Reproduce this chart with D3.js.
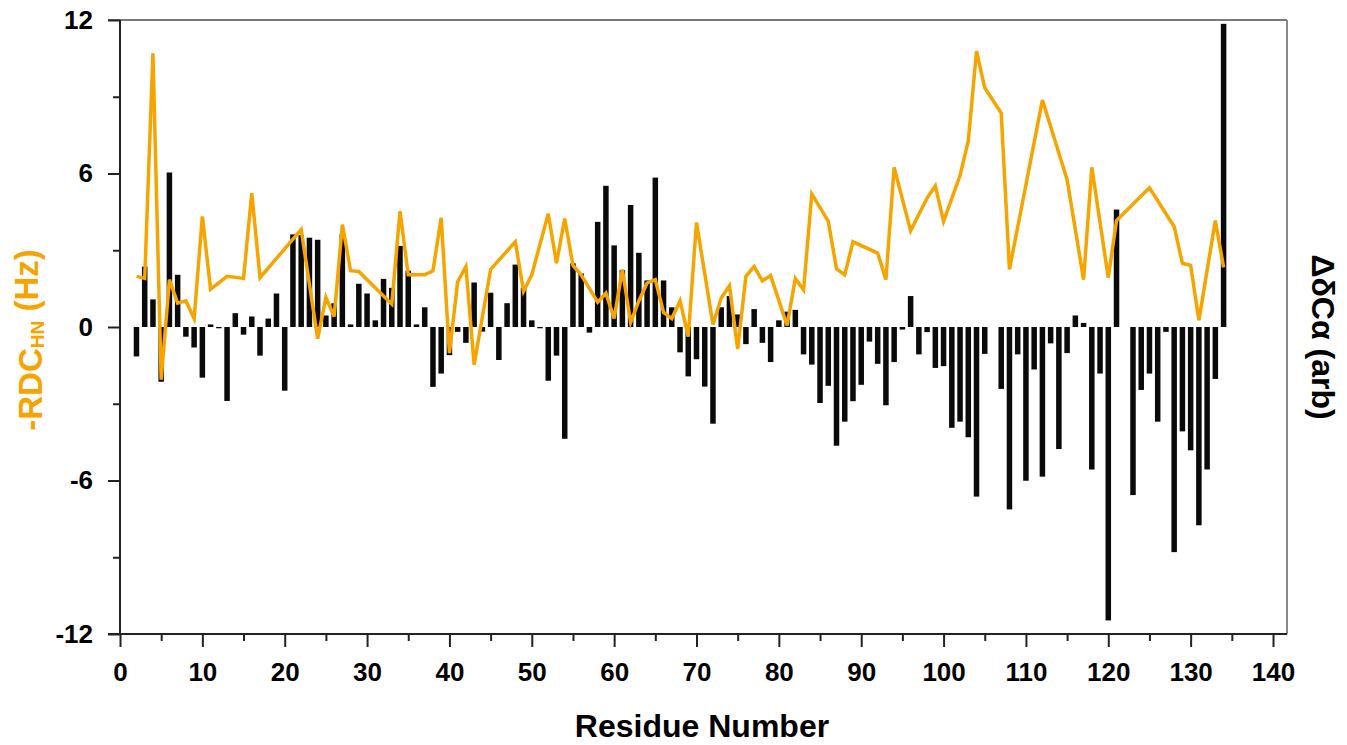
<!DOCTYPE html>
<html>
<head>
<meta charset="utf-8">
<script src="https://cdn.jsdelivr.net/npm/d3@7"></script>
<style>
  body { margin: 0; background: #fff; }
  svg { display: block; font-family: "Liberation Sans", Arial, sans-serif; }
</style>
</head>
<body>
<div id="chart"></div>
<script>
// ΔδCα per residue (bars)
const barResidues = [2,3,4,5,6,7,8,9,10,11,12,13,14,15,16,17,18,19,20,21,22,23,24,25,26,27,28,29,30,
    31,32,33,34,35,36,37,38,39,40,41,42,43,44,45,46,47,48,49,50,51,52,53,54,55,56,57,58,59,60,
    61,62,63,64,65,66,67,68,69,70,71,72,73,74,75,76,77,78,79,80,81,82,83,84,85,86,87,88,89,90,
    91,92,93,94,95,96,97,98,99,100,101,102,103,104,105,107,108,109,110,111,112,113,114,115,116,117,118,119,120,
    121,123,124,125,126,127,128,129,130,131,132,133,134];
const barValues = [-1.15,2.36,1.08,-2.14,6.04,2.04,-0.38,-0.8,-1.98,0.1,-0.05,-2.89,0.54,-0.3,0.41,-1.12,0.33,1.31,-2.49,3.62,3.59,3.49,3.41,0.45,0.93,3.62,0.1,1.69,1.31,
    0.26,1.88,1.53,3.17,2.2,0.1,0.77,-2.34,-1.82,-1.1,-0.19,-0.62,1.74,-0.18,1.34,-1.29,0.93,2.44,1.53,0.26,-0.05,-2.1,-1.12,-4.37,2.49,2.09,-0.22,4.11,5.52,3.19,
    2.22,4.77,2.9,1.82,5.84,1.82,0.77,-0.99,-1.93,-1.26,-2.33,-3.78,0.77,1.21,0.49,-0.67,0.7,-0.62,-1.37,0.26,0.6,0.67,-1.07,-1.47,-2.97,-2.3,-4.64,-3.7,-2.9,-2.26,
    -0.57,-1.44,-3.06,-1.37,-0.1,1.21,-1.07,-0.2,-1.6,-1.53,-3.94,-3.7,-4.31,-6.63,-1.05,-2.42,-7.13,-1.07,-6.01,-1.66,-5.85,-0.64,-4.77,-1.02,0.45,0.16,-5.57,-1.82,-11.47,
    4.59,-6.57,-2.46,-1.82,-3.7,-0.19,-8.8,-4.08,-4.82,-7.75,-5.57,-2.03,11.85];

// -RDC(HN) per residue (orange line)
const rdcResidues = [2,3,4,5,6,7,8,9,10,11,13,15,16,17,22,24,25,26,27,28,29,33,34,35,37,38,39,40,41,42,43,45,48,49,50,
    52,53,54,55,56,58,59,60,61,62,63,64,65,66,67,68,69,70,72,73,74,75,76,77,78,79,81,82,83,84,86,87,88,89,92,93,94,
    96,98,99,100,102,103,104,105,107,108,112,115,117,118,120,121,125,128,129,130,131,133,134];
const rdcValues = [1.98,1.9,10.7,-2.06,1.85,0.93,1.02,0.33,4.32,1.48,1.98,1.9,5.23,1.93,3.81,-0.46,1.16,0.41,4.0,2.2,2.17,0.89,4.53,2.04,2.04,2.2,4.27,-1.02,1.77,2.36,-1.47,2.25,3.33,1.4,2.04,
    4.43,2.49,4.24,2.41,2.04,0.97,1.32,0.33,2.25,0.18,1.02,1.72,1.85,0.57,0.33,1.02,-0.38,4.08,0.1,1.13,1.61,-0.86,1.98,2.36,1.8,2.01,0.06,1.9,1.45,5.2,4.13,2.28,2.04,3.33,2.89,1.85,6.24,
    3.76,5.04,5.52,4.13,5.92,7.27,10.78,9.35,8.36,2.25,8.87,5.76,1.85,6.24,1.93,4.16,5.44,3.92,2.49,2.41,0.26,4.16,2.33];

const xMajorTicks = [0,10,20,30,40,50,60,70,80,90,100,110,120,130,140];
const xMinorTicks = [5,15,25,35,45,55,65,75,85,95,105,115,125,135];
const yMajorTicks = [-12,-6,0,6,12];
const yMinorTicks = [-9,-3,3,9];

const margin = { top: 20, right: 60, bottom: 111, left: 120 };
const width = 1347 - margin.left - margin.right;
const height = 745 - margin.top - margin.bottom;
const orange = "#f7a400";

const svg = d3.select("#chart").append("svg")
    .attr("width", 1347)
    .attr("height", 745);

const g = svg.append("g")
    .attr("transform", "translate(" + margin.left + "," + margin.top + ")");

const x = d3.scaleLinear().domain([0, 141.7]).range([0, width]);
const y = d3.scaleLinear().domain([-12, 12]).range([height, 0]);

// frame (top and right are lighter)
g.append("line")
    .attr("x1", -12).attr("x2", width).attr("y1", 0).attr("y2", 0)
    .attr("stroke", "#7a7a7a").attr("stroke-width", 2);
g.append("line")
    .attr("x1", width).attr("x2", width).attr("y1", 0).attr("y2", height)
    .attr("stroke", "#8a8a8a").attr("stroke-width", 2);

// bars
const bars = barResidues.map(function (r, i) { return { r: r, v: barValues[i] }; });
const barW = 5.5;
g.selectAll(".bar")
    .data(bars)
    .enter().append("rect")
    .attr("class", "bar")
    .attr("x", function (d) { return x(d.r) - barW / 2; })
    .attr("y", function (d) { return Math.min(y(d.v), y(0)); })
    .attr("width", barW)
    .attr("height", function (d) { return Math.max(Math.abs(y(d.v) - y(0)), 1); })
    .attr("fill", "#0a0a0a");

// line
const rdc = rdcResidues.map(function (r, i) { return { r: r, v: rdcValues[i] }; });
const line = d3.line()
    .x(function (d) { return x(d.r); })
    .y(function (d) { return y(d.v); });
g.append("path")
    .datum(rdc)
    .attr("fill", "none")
    .attr("stroke", orange)
    .attr("stroke-width", 3.5)
    .attr("stroke-linejoin", "miter")
    .attr("d", line);

// axes
function styleAxis(sel) {
    sel.select(".domain").remove();
    sel.selectAll("line").attr("stroke", "#222").attr("stroke-width", 2);
    sel.selectAll("text")
        .attr("fill", "#000")
        .style("font-size", "26px")
        .style("font-weight", "bold");
}

// plain hyphen for negatives, like the original
const fmt = function (d) { return String(d); };

g.append("g")
    .call(d3.axisLeft(y).tickValues(yMinorTicks).tickSize(7).tickFormat(""))
    .call(styleAxis);
g.append("g")
    .call(d3.axisLeft(y).tickValues(yMajorTicks).tickSize(12).tickPadding(15).tickFormat(fmt))
    .call(styleAxis);

g.append("g")
    .attr("transform", "translate(0," + height + ")")
    .call(d3.axisBottom(x).tickValues(xMinorTicks).tickSize(7).tickFormat(""))
    .call(styleAxis);
g.append("g")
    .attr("transform", "translate(0," + height + ")")
    .call(d3.axisBottom(x).tickValues(xMajorTicks).tickSize(13).tickPadding(16).tickFormat(fmt))
    .call(styleAxis);

// axis lines
g.append("line")
    .attr("x1", 0).attr("x2", 0).attr("y1", 0).attr("y2", height)
    .attr("stroke", "#222").attr("stroke-width", 2);
g.append("line")
    .attr("x1", -12).attr("x2", width).attr("y1", height).attr("y2", height)
    .attr("stroke", "#222").attr("stroke-width", 2);

// titles
svg.append("text")
    .attr("x", 702)
    .attr("y", 737)
    .attr("text-anchor", "middle")
    .style("font-size", "32px")
    .style("font-weight", "bold")
    .text("Residue Number");

const yTitle = svg.append("text")
    .attr("transform", "translate(42,340) rotate(-90)")
    .attr("text-anchor", "middle")
    .attr("fill", orange)
    .style("font-size", "33px")
    .style("font-weight", "bold");
yTitle.append("tspan").text("-RDC");
yTitle.append("tspan").attr("dy", "0.12em").style("font-size", "19px").text("HN");
yTitle.append("tspan").attr("dy", "-0.2em").text(" (Hz)");

svg.append("text")
    .attr("transform", "translate(1312,337) rotate(90)")
    .attr("text-anchor", "middle")
    .attr("fill", "#000")
    .style("font-size", "32px")
    .style("font-weight", "bold")
    .text("ΔδCα (arb)");
</script>
</body>
</html>
